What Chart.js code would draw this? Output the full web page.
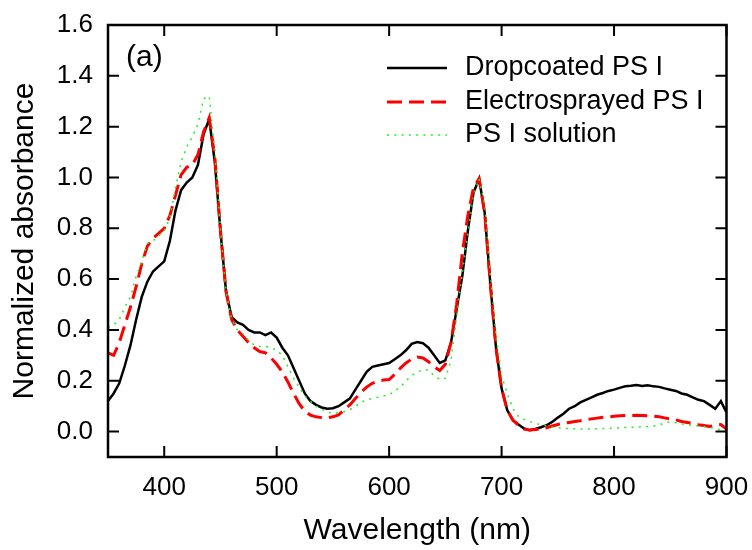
<!DOCTYPE html>
<html>
<head>
<meta charset="utf-8">
<script src="https://cdn.jsdelivr.net/npm/chart.js@4"></script>
<style>
  html, body { margin: 0; padding: 0; background: #fff; }
  #wrap { width: 752px; height: 550px; }
</style>
</head>
<body>
<div id="wrap"><canvas id="absChart" width="752" height="550"></canvas></div>
<script>
// wavelength grid (nm), 5 nm steps
const wavelengths = [
  350, 355, 360, 365, 370, 375, 380, 385, 390, 395,
  400, 405, 410, 415, 420, 425, 430, 435, 440, 445,
  450, 455, 460, 465, 470, 475, 480, 485, 490, 495,
  500, 505, 510, 515, 520, 525, 530, 535, 540, 545,
  550, 555, 560, 565, 570, 575, 580, 585, 590, 595,
  600, 605, 610, 615, 620, 625, 630, 635, 640, 645,
  650, 655, 660, 665, 670, 675, 680, 685, 690, 695,
  700, 705, 710, 715, 720, 725, 730, 735, 740, 745,
  750, 755, 760, 765, 770, 775, 780, 785, 790, 795,
  800, 805, 810, 815, 820, 825, 830, 835, 840, 845,
  850, 855, 860, 865, 870, 875, 880, 885, 890, 895,
  900
];

const dropcoated = [
  0.12, 0.15, 0.19, 0.26, 0.34, 0.44, 0.53, 0.59, 0.63, 0.65,
  0.67, 0.75, 0.87, 0.95, 0.98, 1.00, 1.05, 1.17, 1.23, 1.06,
  0.79, 0.55, 0.45, 0.43, 0.42, 0.40, 0.39, 0.39, 0.38, 0.39,
  0.37, 0.33, 0.30, 0.25, 0.20, 0.15, 0.12, 0.105, 0.095, 0.09,
  0.092, 0.10, 0.115, 0.13, 0.165, 0.20, 0.235, 0.255, 0.26, 0.265,
  0.27, 0.285, 0.30, 0.32, 0.345, 0.352, 0.348, 0.33, 0.30, 0.27,
  0.28, 0.35, 0.48, 0.61, 0.79, 0.94, 0.995, 0.86, 0.58, 0.33,
  0.17, 0.085, 0.045, 0.028, 0.012, 0.005, 0.01, 0.017, 0.025, 0.038,
  0.055, 0.07, 0.09, 0.10, 0.115, 0.125, 0.135, 0.145, 0.152, 0.16,
  0.165, 0.172, 0.178, 0.18, 0.183, 0.179, 0.182, 0.178, 0.176, 0.17,
  0.165, 0.16, 0.15, 0.145, 0.135, 0.125, 0.12, 0.105, 0.09, 0.12,
  0.075
];

const electrosprayed = [
  0.31, 0.30, 0.35, 0.42, 0.49, 0.57, 0.66, 0.73, 0.76, 0.78,
  0.80, 0.85, 0.93, 1.01, 1.04, 1.05, 1.09, 1.18, 1.235, 1.08,
  0.79, 0.55, 0.44, 0.40, 0.375, 0.35, 0.33, 0.315, 0.31, 0.29,
  0.265, 0.235, 0.195, 0.15, 0.11, 0.08, 0.065, 0.058, 0.055, 0.054,
  0.058, 0.066, 0.085, 0.105, 0.13, 0.155, 0.175, 0.19, 0.198, 0.203,
  0.205, 0.225, 0.25, 0.27, 0.285, 0.293, 0.29, 0.275, 0.255, 0.24,
  0.265, 0.35, 0.50, 0.70, 0.85, 0.96, 0.995, 0.86, 0.58, 0.33,
  0.17, 0.085, 0.045, 0.025, 0.01, 0.006, 0.008, 0.01, 0.015, 0.022,
  0.028, 0.032, 0.036, 0.04, 0.043, 0.047, 0.05, 0.053, 0.056, 0.058,
  0.06, 0.062, 0.063, 0.063, 0.064, 0.063, 0.062, 0.061, 0.058, 0.054,
  0.05, 0.046, 0.04, 0.036, 0.032, 0.027, 0.024, 0.02, 0.025, 0.028,
  0.01
];

const solution = [
  0.41, 0.42, 0.44, 0.49, 0.53, 0.61, 0.67, 0.74, 0.75, 0.77,
  0.79, 0.84, 0.96, 1.06, 1.12, 1.16, 1.21, 1.31, 1.32, 1.10,
  0.80, 0.55, 0.44, 0.40, 0.385, 0.36, 0.34, 0.335, 0.335, 0.33,
  0.32, 0.30, 0.255, 0.21, 0.175, 0.14, 0.12, 0.10, 0.088, 0.076,
  0.073, 0.073, 0.078, 0.086, 0.10, 0.115, 0.125, 0.13, 0.135, 0.14,
  0.145, 0.16, 0.175, 0.20, 0.22, 0.235, 0.242, 0.243, 0.22, 0.205,
  0.21, 0.28, 0.45, 0.62, 0.78, 0.93, 0.995, 0.89, 0.62, 0.38,
  0.22, 0.15, 0.09, 0.06, 0.048, 0.04, 0.032, 0.027, 0.023, 0.018,
  0.015, 0.013, 0.012, 0.011, 0.01, 0.01, 0.01, 0.011, 0.012, 0.013,
  0.014, 0.015, 0.016, 0.017, 0.018, 0.019, 0.02, 0.022, 0.025, 0.035,
  0.038, 0.035, 0.03, 0.027, 0.025, 0.022, 0.02, 0.016, 0.012, 0.007,
  0.002
];

const xTickValues = [400, 500, 600, 700, 800, 900];
const yTickValues = [0.0, 0.2, 0.4, 0.6, 0.8, 1.0, 1.2, 1.4, 1.6];

const FONT = '"Liberation Sans", Arial, sans-serif';

function toPoints(ys) {
  return wavelengths.map((w, i) => ({ x: w, y: ys[i] }));
}

// frame, inward ticks on all four sides, legend and panel label
const framePlugin = {
  id: 'framePlugin',
  afterDraw(chart) {
    const { ctx, chartArea: a, scales: { x, y } } = chart;
    const len = 11;
    ctx.save();
    ctx.strokeStyle = '#000';
    ctx.lineWidth = 2.5;
    ctx.strokeRect(a.left, a.top, a.right - a.left, a.bottom - a.top);

    ctx.lineWidth = 2;
    ctx.beginPath();
    x.ticks.forEach(t => {
      const px = x.getPixelForValue(t.value);
      ctx.moveTo(px, a.bottom);
      ctx.lineTo(px, a.bottom - len);
      ctx.moveTo(px, a.top);
      ctx.lineTo(px, a.top + len);
    });
    y.ticks.forEach(t => {
      const py = y.getPixelForValue(t.value);
      ctx.moveTo(a.left, py);
      ctx.lineTo(a.left + len, py);
      ctx.moveTo(a.right, py);
      ctx.lineTo(a.right - len, py);
    });
    ctx.stroke();

    // legend
    const rows = [68, 102, 135];
    ctx.font = '27px ' + FONT;
    ctx.textBaseline = 'middle';
    ctx.textAlign = 'left';
    chart.data.datasets.forEach((ds, i) => {
      const ly = rows[i];
      ctx.beginPath();
      ctx.strokeStyle = ds.borderColor;
      ctx.lineWidth = ds.borderWidth;
      ctx.setLineDash(ds.borderDash || []);
      ctx.moveTo(387, ly);
      ctx.lineTo(447, ly);
      ctx.stroke();
      ctx.setLineDash([]);
      ctx.fillStyle = '#000';
      ctx.fillText(ds.label, 465, ly);
    });

    ctx.font = '30px ' + FONT;
    ctx.fillText('(a)', 126, 58);
    ctx.restore();
  }
};

new Chart(document.getElementById('absChart'), {
  type: 'line',
  data: {
    datasets: [
      {
        label: 'Dropcoated PS I',
        data: toPoints(dropcoated),
        borderColor: '#000000',
        borderWidth: 2.5,
        pointRadius: 0,
        order: 3
      },
      {
        label: 'Electrosprayed PS I',
        data: toPoints(electrosprayed),
        borderColor: '#ff0000',
        borderWidth: 3,
        borderDash: [15, 7],
        pointRadius: 0,
        order: 2
      },
      {
        label: 'PS I solution',
        data: toPoints(solution),
        borderColor: '#22ee22',
        borderWidth: 1.5,
        borderDash: [2, 5.3],
        pointRadius: 0,
        order: 1
      }
    ]
  },
  plugins: [framePlugin],
  options: {
    responsive: false,
    animation: false,
    layout: { padding: { top: 25, right: 25.5, left: 0, bottom: 0 } },
    plugins: {
      legend: { display: false },
      tooltip: { enabled: false }
    },
    scales: {
      x: {
        type: 'linear',
        min: 350,
        max: 900,
        grid: { display: false, drawTicks: false },
        border: { display: false },
        afterBuildTicks: s => { s.ticks = xTickValues.map(v => ({ value: v })); },
        afterFit: s => { s.height = 93; s.paddingLeft = 0; s.paddingRight = 0; },
        ticks: {
          color: '#000',
          padding: 15,
          maxRotation: 0,
          font: { family: FONT, size: 26 },
          callback: v => String(v)
        },
        title: {
          display: true,
          text: 'Wavelength (nm)',
          color: '#000',
          font: { family: FONT, size: 30 },
          padding: { top: 0, bottom: 1.5 }
        }
      },
      y: {
        min: -0.1,
        max: 1.6,
        grid: { display: false, drawTicks: false },
        border: { display: false },
        afterBuildTicks: s => { s.ticks = yTickValues.map(v => ({ value: v })); },
        afterFit: s => { s.width = 108; s.paddingTop = 0; s.paddingBottom = 0; },
        ticks: {
          color: '#000',
          padding: 15,
          font: { family: FONT, size: 26 },
          callback: v => Number(v).toFixed(1)
        },
        title: {
          display: true,
          text: 'Normalized absorbance',
          color: '#000',
          font: { family: FONT, size: 30 },
          padding: { top: 6.5, bottom: 0 }
        }
      }
    }
  }
});
</script>
</body>
</html>
